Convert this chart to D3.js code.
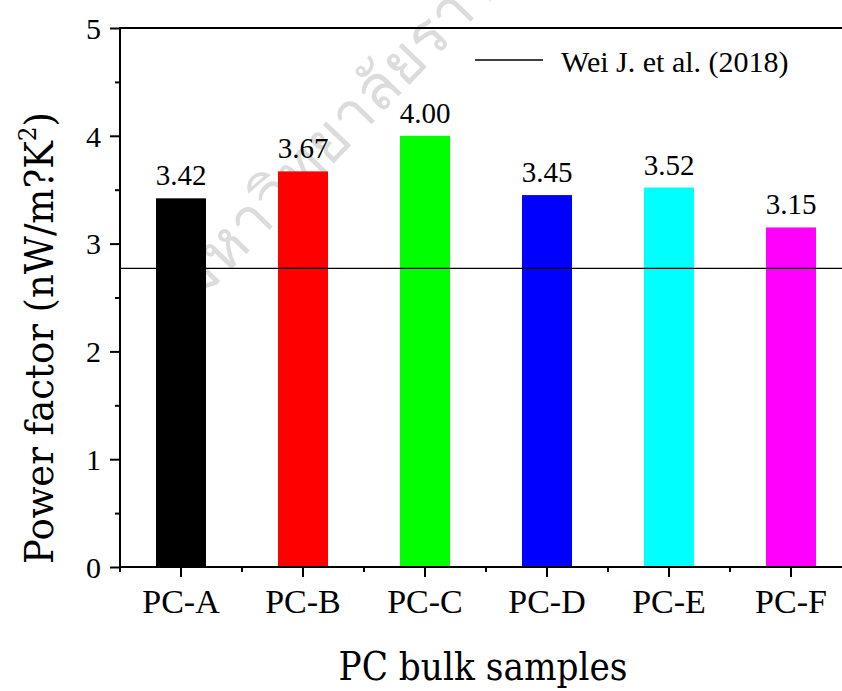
<!DOCTYPE html>
<html>
<head>
<meta charset="utf-8">
<script src="https://cdn.jsdelivr.net/npm/d3@7/dist/d3.min.js"></script>
<style>
  html, body { margin: 0; padding: 0; background: #fff; }
  svg { display: block; }
</style>
</head>
<body>
<svg id="chart" width="842" height="691"></svg>
<script>
// Power factor of the PC bulk samples
const categories = ["PC-A", "PC-B", "PC-C", "PC-D", "PC-E", "PC-F"];
const values = [3.42, 3.67, 4.00, 3.45, 3.52, 3.15];
const barColors = ["#000000", "#ff0000", "#00ff00", "#0000ff", "#00ffff", "#ff00ff"];
const yTicks = [0, 1, 2, 3, 4, 5];
const yMinorTicks = [0.5, 1.5, 2.5, 3.5, 4.5];
const referenceValue = 2.77;
const referenceLabel = "Wei J. et al. (2018)";

const SERIF = '"Liberation Serif", "Times New Roman", Tinos, "DejaVu Serif", serif';
const TITLE_SERIF = '"DejaVu Serif", "Liberation Serif", serif';
const svg = d3.select("#chart");
const W = 842, H = 691;

// faint background stamp
svg.append("text")
  .attr("transform", "translate(196,306) rotate(-46)")
  .style("font-family", 'Loma, "Noto Sans Thai", sans-serif')
  .attr("font-size", 62)
  .style("fill", "#dcdcdc")
  .text("มหาวิทยาลัยราชภัฏ");

const plotLeft = 120, plotTop = 28, plotBottom = 567, plotRight = 852;

const x = d3.scaleBand()
  .domain(categories)
  .range([plotLeft, plotRight])
  .paddingInner(0.59)
  .paddingOuter(0.295);

const y = d3.scaleLinear().domain([0, 5]).range([plotBottom, plotTop]);

// bars
svg.append("g").selectAll("rect")
  .data(categories)
  .join("rect")
  .attr("x", d => x(d))
  .attr("width", x.bandwidth())
  .attr("y", (d, i) => y(values[i]))
  .attr("height", (d, i) => y(0) - y(values[i]))
  .attr("fill", (d, i) => barColors[i]);

// value labels
svg.append("g").selectAll("text")
  .data(categories)
  .join("text")
  .attr("x", d => x(d) + x.bandwidth() / 2)
  .attr("y", (d, i) => y(values[i]) - 13)
  .attr("text-anchor", "middle")
  .style("font-family", SERIF)
  .style("font-size", "29px")
  .text((d, i) => values[i].toFixed(2));

// reference line
svg.append("line")
  .attr("x1", plotLeft).attr("x2", W)
  .attr("y1", y(referenceValue)).attr("y2", y(referenceValue))
  .attr("stroke", "#000").attr("stroke-width", 1.4);

// y axis
const yAxis = d3.axisLeft(y).tickValues(yTicks).tickFormat(d3.format("d"))
  .tickSize(10).tickPadding(9);
const gy = svg.append("g").attr("transform", `translate(${plotLeft},0)`).call(yAxis);
gy.select(".domain").remove();
gy.selectAll(".tick line").attr("stroke-width", 2);
gy.selectAll(".tick text").attr("font-size", 30).attr("fill", "#000")
  .style("font-family", SERIF).attr("dy", "0.34em");
const yMinor = d3.axisLeft(y).tickValues(yMinorTicks).tickSize(5).tickFormat("");
const gym = svg.append("g").attr("transform", `translate(${plotLeft},0)`).call(yMinor);
gym.select(".domain").remove();
gym.selectAll(".tick line").attr("stroke-width", 2);

// x axis
const xAxis = d3.axisBottom(x).tickSize(10).tickPadding(12);
const gx = svg.append("g").attr("transform", `translate(0,${plotBottom})`).call(xAxis);
gx.select(".domain").remove();
gx.selectAll(".tick line").attr("stroke-width", 2);
gx.selectAll(".tick text").attr("font-size", 34).attr("fill", "#000")
  .style("font-family", SERIF).attr("dy", "0.71em");
const xBounds = d3.range(categories.length + 1).map(i => plotLeft + i * x.step());
const gxm = svg.append("g").attr("transform", `translate(0,${plotBottom})`);
gxm.selectAll("line").data(xBounds).join("line")
  .attr("x1", d => d).attr("x2", d => d)
  .attr("y1", 0).attr("y2", 5)
  .attr("stroke", "#000").attr("stroke-width", 2);

// frame lines
svg.append("line").attr("x1", plotLeft).attr("x2", W).attr("y1", plotBottom).attr("y2", plotBottom)
  .attr("stroke", "#000").attr("stroke-width", 2);
svg.append("line").attr("x1", plotLeft).attr("x2", W).attr("y1", plotTop).attr("y2", plotTop)
  .attr("stroke", "#000").attr("stroke-width", 2);
svg.append("line").attr("x1", plotLeft).attr("x2", plotLeft).attr("y1", plotTop - 1).attr("y2", plotBottom + 1)
  .attr("stroke", "#000").attr("stroke-width", 2);

// legend
svg.append("line").attr("x1", 475).attr("x2", 543).attr("y1", 60).attr("y2", 60)
  .attr("stroke", "#000").attr("stroke-width", 1.4);
svg.append("text").attr("x", 561).attr("y", 72)
  .style("font-family", SERIF).attr("font-size", 30).text(referenceLabel);

// axis titles (fixed text lengths keep their span whichever serif face is picked)
const yTitle = svg.append("text")
  .attr("transform", "translate(53,338) rotate(-90)")
  .attr("text-anchor", "middle")
  .style("font-family", TITLE_SERIF)
  .attr("font-size", 40)
  .attr("textLength", 452)
  .attr("lengthAdjust", "spacingAndGlyphs");
yTitle.append("tspan").text("Power factor (nW/m?K");
yTitle.append("tspan").attr("font-size", 25).attr("dy", -17).text("2");
yTitle.append("tspan").attr("dy", 17).text(")");

svg.append("text")
  .attr("x", 483).attr("y", 680)
  .attr("text-anchor", "middle")
  .style("font-family", TITLE_SERIF)
  .attr("font-size", 40)
  .attr("textLength", 289)
  .attr("lengthAdjust", "spacingAndGlyphs")
  .text("PC bulk samples");
</script>
</body>
</html>
